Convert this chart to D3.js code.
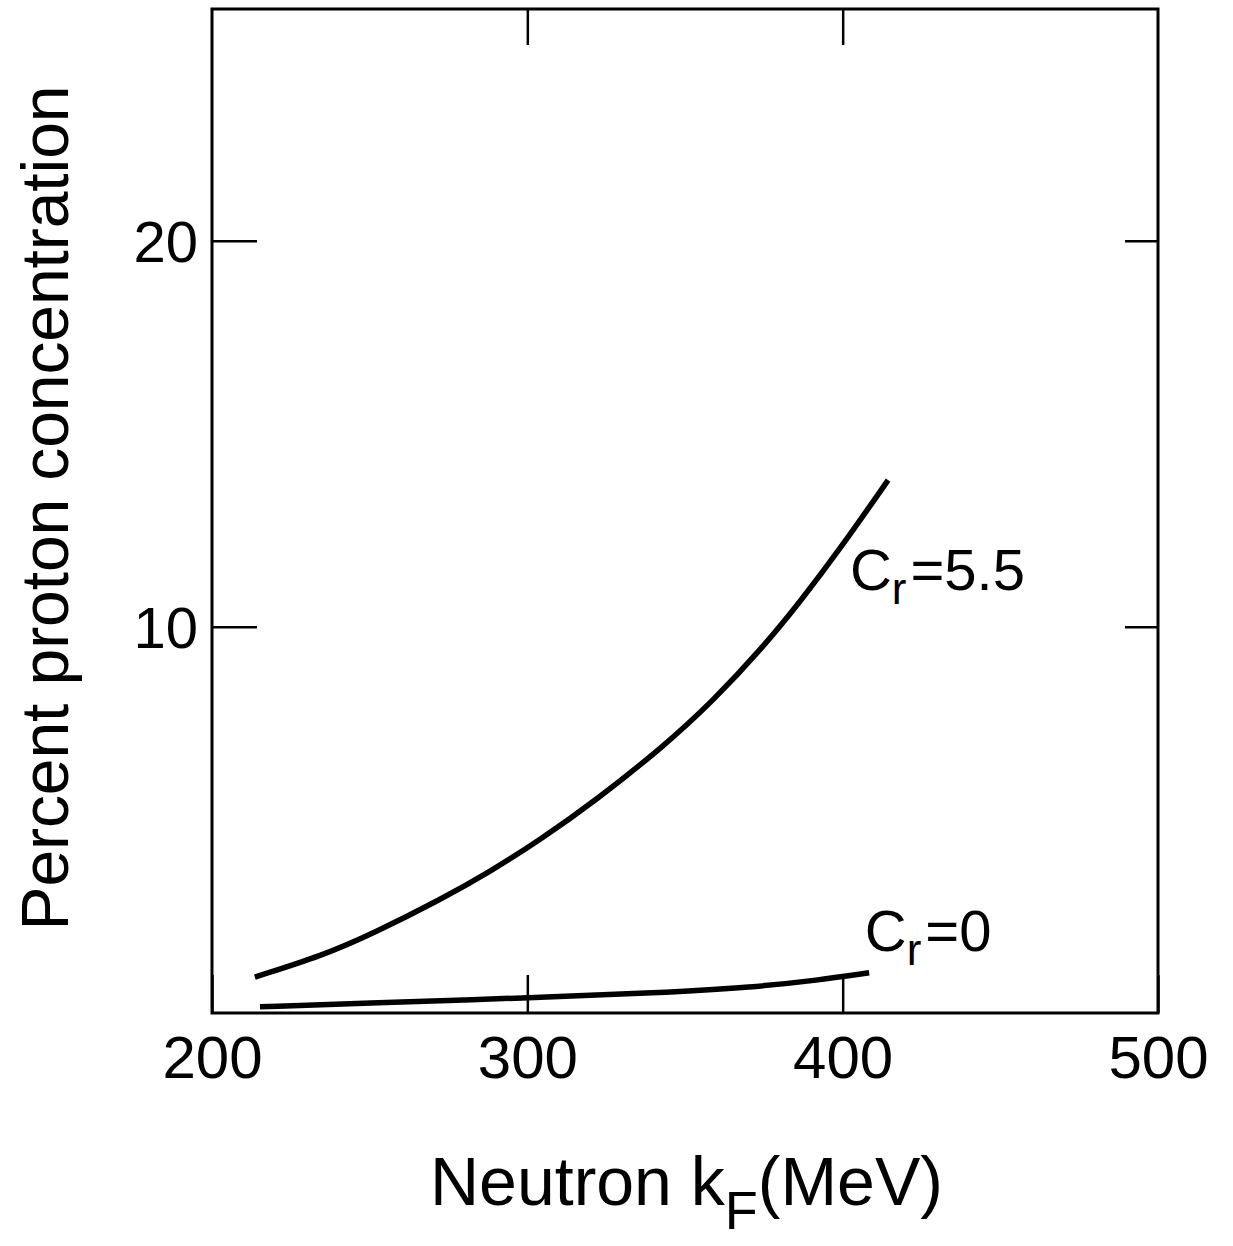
<!DOCTYPE html>
<html>
<head>
<meta charset="utf-8">
<script src="https://cdn.jsdelivr.net/npm/d3@7"></script>
<style>
  body { margin: 0; background: #fff; }
  svg { display: block; }
  text { font-family: "Liberation Sans", "DejaVu Sans", sans-serif; fill: #000; }
</style>
</head>
<body>
<svg class="chart"></svg>
<script>
// neutron kF (MeV) vs percent proton concentration
var kf55  = [213.6, 235.2, 251.1, 272.3, 288.2, 304.0, 322.1, 343.0, 358.9, 374.8, 386.5, 399.2, 414.4]
var pct55 = [0.93, 1.49, 2.06, 2.93, 3.66, 4.48, 5.53, 6.89, 8.08, 9.48, 10.65, 12.02, 13.80]
var kf0   = [215.2, 250.4, 299.6, 341.4, 371.9, 392.2, 408.4]
var pct0  = [0.16, 0.26, 0.39, 0.52, 0.67, 0.85, 1.04]
var xTicks = [200, 300, 400, 500]
var yTicks = [10, 20]

var width = 1233, height = 1246
var margin = {top: 9, right: 75, bottom: 233, left: 212}
var w = width - margin.left - margin.right
  , h = height - margin.top - margin.bottom

var svg = d3.select(".chart")
    .attr("width", width)
    .attr("height", height)

var g = svg.append("g")
    .attr("transform", "translate(" + margin.left + "," + margin.top + ")")

var x = d3.scaleLinear().domain([200, 500]).range([0, w])
var y = d3.scaleLinear().domain([0, 26]).range([h, 0])

// bottom axis, ticks pointing inward
var xb = g.append("g")
    .attr("transform", "translate(0," + h + ")")
    .call(d3.axisBottom(x).tickValues(xTicks).tickSize(-38).tickPadding(22).tickFormat(d3.format("d")))
xb.select(".domain").remove()
xb.selectAll("line").attr("stroke-width", 2.5)
xb.selectAll("text").attr("font-size", 60).attr("dy", "0.72em")

// top axis ticks
var xt = g.append("g")
    .call(d3.axisTop(x).tickValues([300, 400]).tickSize(-36).tickFormat(""))
xt.select(".domain").remove()
xt.selectAll("line").attr("stroke-width", 2.5)

// left axis
var yl = g.append("g")
    .call(d3.axisLeft(y).tickValues(yTicks).tickSize(-45).tickPadding(14))
yl.select(".domain").remove()
yl.selectAll("line").attr("stroke-width", 2.5)
yl.selectAll("text").attr("font-size", 58).attr("dy", "0.36em")

// right axis ticks
var yr = g.append("g")
    .attr("transform", "translate(" + w + ",0)")
    .call(d3.axisRight(y).tickValues(yTicks).tickSize(-33).tickFormat(""))
yr.select(".domain").remove()
yr.selectAll("line").attr("stroke-width", 2.5)

// frame
g.append("rect")
    .attr("width", w)
    .attr("height", h)
    .attr("fill", "none")
    .attr("stroke", "#000")
    .attr("stroke-width", 3)

var line = d3.line()
    .x(d => x(d[0]))
    .y(d => y(d[1]))
    .curve(d3.curveBasis)

var series = [
    {kf: kf55, pct: pct55},
    {kf: kf0, pct: pct0}
]
series.forEach(s => {
    g.append("path")
        .datum(s.kf.map((k, i) => [k, s.pct[i]]))
        .attr("d", line)
        .attr("fill", "none")
        .attr("stroke", "#000")
        .attr("stroke-width", 5.5)
})

// curve labels
function crLabel(xv, yv, val) {
    var t = g.append("text")
        .attr("x", x(xv))
        .attr("y", y(yv))
        .attr("font-size", 58)
    t.append("tspan").text("C")
    t.append("tspan").attr("font-size", 44).attr("dy", 14).text("r")
    t.append("tspan").attr("dy", -14).attr("dx", 4).text("=" + val)
}
crLabel(402.3, 10.95, "5.5")
crLabel(407, 1.6, "0")

// axis titles
var xt1 = svg.append("text")
    .attr("x", 430)
    .attr("y", 1205)
    .attr("font-size", 68)
xt1.append("tspan").text("Neutron  k")
xt1.append("tspan").attr("font-size", 54).attr("dy", 24).text("F")
xt1.append("tspan").attr("dy", -24).text("(MeV)")

svg.append("text")
    .attr("transform", "translate(68,508) rotate(-90)")
    .attr("text-anchor", "middle")
    .attr("font-size", 66)
    .attr("textLength", 845)
    .text("Percent  proton  concentration")
</script>
</body>
</html>
